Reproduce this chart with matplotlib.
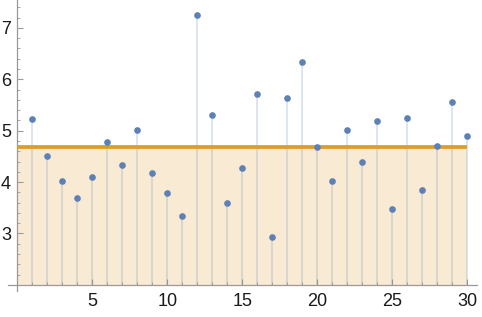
import matplotlib
matplotlib.use("Agg")
import matplotlib.pyplot as plt
from matplotlib.ticker import MultipleLocator

plt.rcParams['font.family'] = ['Liberation Sans', 'DejaVu Sans']

x_values = list(range(1, 31))
y_values = [5.23, 4.50, 4.03, 3.69, 4.10, 4.77, 4.33, 5.02, 4.18, 3.79,
            3.34, 7.245, 5.30, 3.59, 4.27, 5.71, 2.93, 5.64, 6.33, 4.68,
            4.03, 5.02, 4.40, 5.18, 3.48, 5.25, 3.85, 4.71, 5.56, 4.90]
threshold = 4.68
baseline = 2.0

point_color = '#5E81B5'
orange = '#E19C24'

fig = plt.figure(figsize=(4.82, 3.17), dpi=100)
W, H = 482, 317
left, right, top, bottom = 8, 477, 0, 291
ax = fig.add_axes([left / W, (H - bottom) / H, (right - left) / W, (bottom - top) / H])
ax.set_xlim(-0.62, 30.65)
ax.set_ylim(1.88, 7.543)
ax.patch.set_alpha(0)

# filled region under threshold line
ax.fill_between([0, 30], [baseline, baseline], [threshold, threshold],
                color=orange, alpha=0.2, linewidth=0, zorder=1)
# stems
ax.vlines(x_values, baseline, y_values, colors=point_color, alpha=0.2,
          linewidth=1.5, zorder=2)
# threshold line
ax.plot([0, 30], [threshold, threshold], color=orange, linewidth=2.7,
        solid_capstyle='butt', zorder=3)
# points
ax.plot(x_values, y_values, 'o', color=point_color, markersize=4.8,
        markeredgewidth=0, zorder=4)

for s in ['top', 'right']:
    ax.spines[s].set_visible(False)
ax.spines['left'].set_position(('data', 0))
ax.spines['bottom'].set_position(('data', baseline))
for s in ['left', 'bottom']:
    ax.spines[s].set_color('#9a9a9a')
    ax.spines[s].set_linewidth(0.9)

ax.xaxis.set_major_locator(MultipleLocator(5))
ax.xaxis.set_minor_locator(MultipleLocator(1))
ax.set_xticks([5, 10, 15, 20, 25, 30])
ax.set_yticks([3, 4, 5, 6, 7])
ax.yaxis.set_minor_locator(MultipleLocator(0.2))

ax.tick_params(axis='both', which='major', direction='in', length=4, width=0.8,
               color='#9a9a9a', labelsize=13, labelcolor='#1a1a1a')
ax.tick_params(axis='both', which='minor', direction='in', length=2.2, width=0.6,
               color='#9a9a9a')
ax.tick_params(axis='y', which='major', pad=4.5)
ax.tick_params(axis='x', which='major', pad=6)

fig.savefig('out.png', dpi=100)
